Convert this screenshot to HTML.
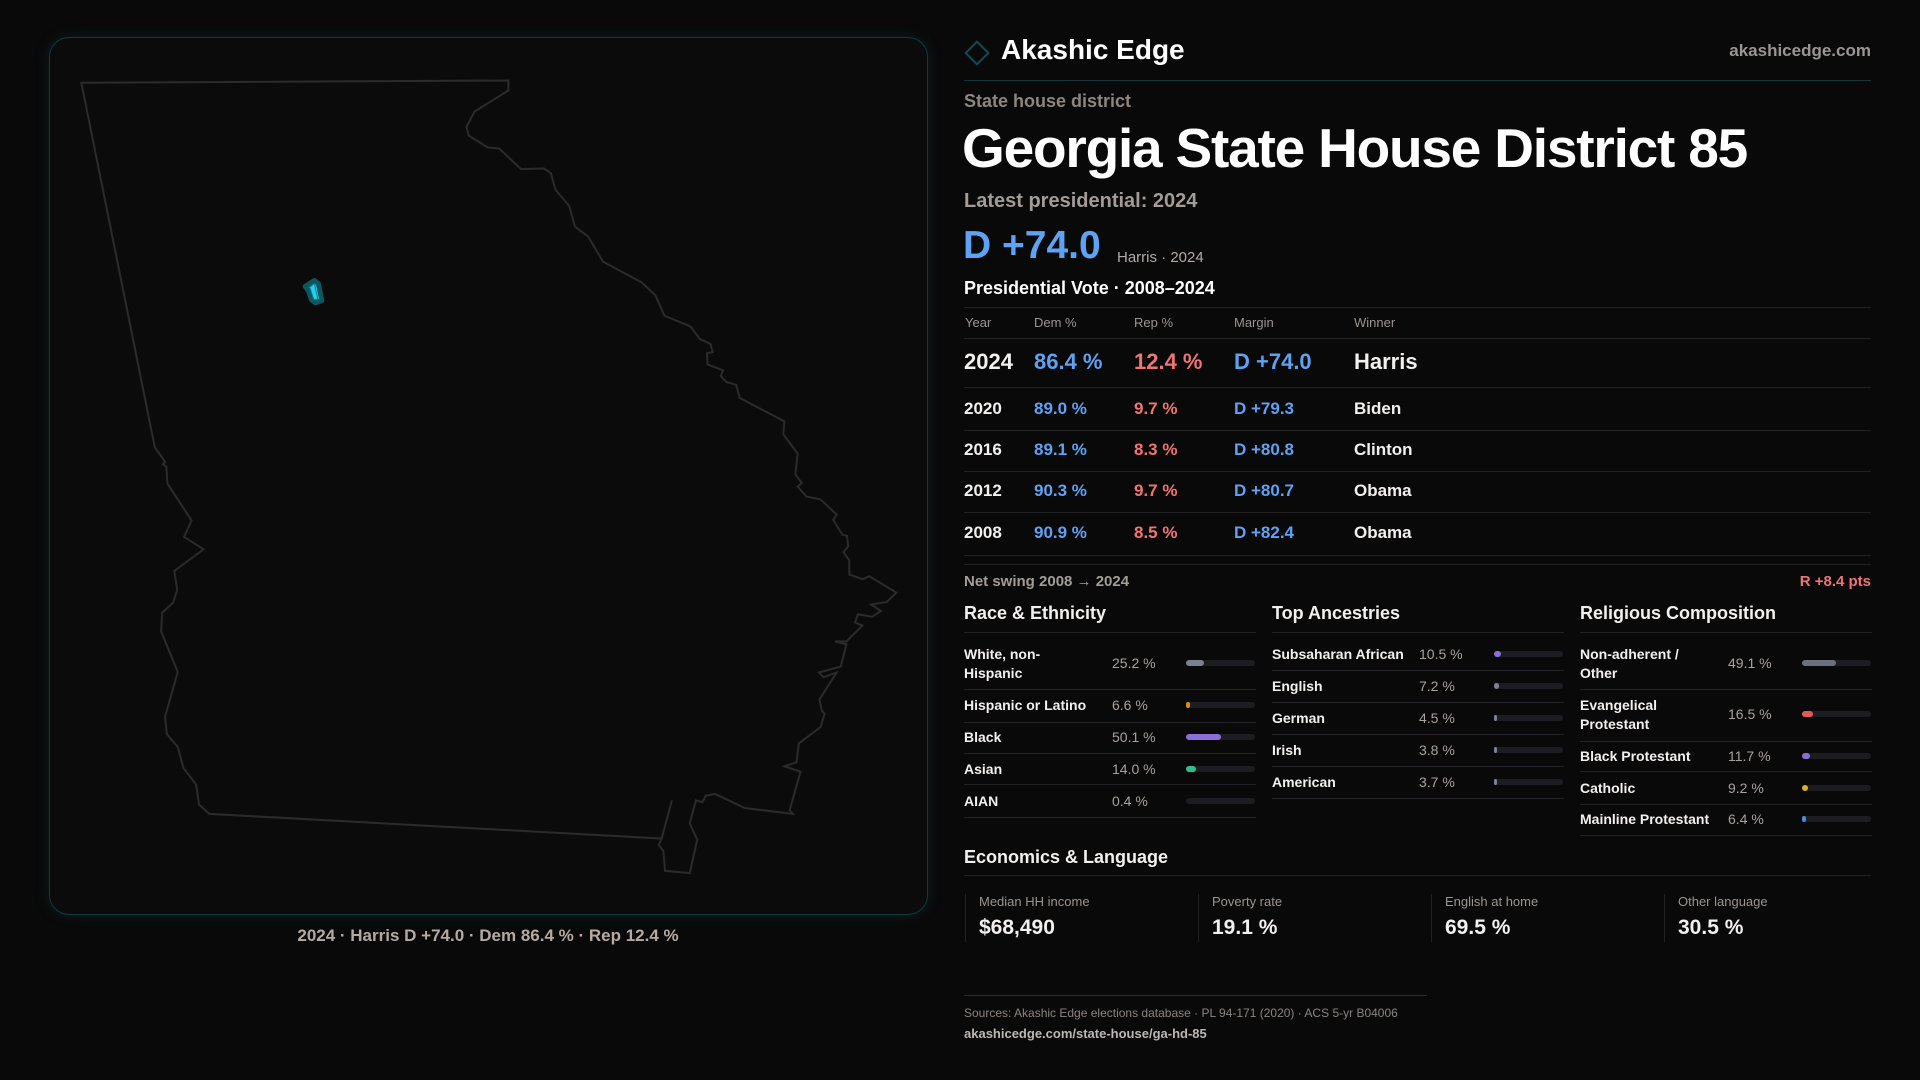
<!DOCTYPE html>
<html><head><meta charset="utf-8"><style>
*{margin:0;padding:0;box-sizing:border-box}
body{width:1920px;height:1080px;background:#0a0909;position:relative;overflow:hidden;font-family:"Liberation Sans",sans-serif;color:#f2f0ee}
.t{position:absolute;white-space:nowrap;line-height:1}
.b{font-weight:bold}
.ln{position:absolute;height:1px;background:#232124}
.tr{position:absolute;height:6px;border-radius:3px;background:#1d1c20;width:69px}
.tr i{position:absolute;left:0;top:0;height:6px;border-radius:3px}
.lab{font-size:14px;font-weight:bold;color:#f2f0ee}
.val{font-size:14px;color:#a8a29d}
.gr{color:#9a948f}
.bl{color:#5ea2f4}.rd{color:#f07474}
</style></head><body>
<div style="position:absolute;left:49px;top:37px;width:879px;height:878px;border:1px solid #123a40;border-radius:20px;background:#0c0b0c;box-shadow:0 0 14px rgba(20,90,100,.25)"></div>
<svg style="position:absolute;left:40px;top:30px" width="900" height="920" viewBox="0 0 1568 1568" preserveAspectRatio="none">
<path vector-effect="non-scaling-stroke" fill="none" stroke="#2c2a2b" stroke-width="2" d="M72,90 L816,86 816,103 757,139 743,165 747,180 780,200 800,202 838,237 878,236 890,244 898,272 922,300 932,335 955,352 981,395 1048,430 1072,452 1088,487 1133,505 1150,527 1168,535 1172,549 1162,551 1163,570 1190,580 1186,590 1196,600 1213,605 1219,627 1297,667 1295,689 1320,722 1316,757 1327,772 1320,778 1335,795 1360,800 1388,826 1382,835 1398,860 1406,862 1408,880 1400,890 1410,904 1410,928 1433,936 1445,931 1492,959 1475,975 1448,979 1465,990 1450,1000 1425,996 1420,1010 1433,1015 1405,1042 1385,1042 1405,1047 1395,1085 1357,1095 1365,1103 1388,1095 1358,1141 1362,1160 1367,1165 1360,1188 1322,1216 1318,1248 1297,1255 1325,1264 1306,1330 1312,1336 1228,1326 1176,1302 1160,1305 1154,1316 1143,1313 1132,1352 1145,1380 1132,1437 1089,1433 1086,1399 1078,1389 1083,1378 295,1336 277,1320 272,1286 250,1258 240,1222 221,1200 218,1170 240,1094 211,1025 213,993 232,976 239,954 234,922 285,885 251,864 264,836 222,773 220,744 214,740 218,736 200,711 Z M1101,1313 L1083,1378"/>
<path vector-effect="non-scaling-stroke" fill="#22d3ee" stroke="#0e5560" stroke-width="5" stroke-linejoin="round" d="M462,437 L478,427 485,432 491,461 480,465 473,460 468,445 Z"/>
<path vector-effect="non-scaling-stroke" fill="none" stroke="#0a7d8f" stroke-width="1" d="M470,438 L478,432 484,458 477,460 Z"/>
</svg>
<div class="t" style="left:488px;top:927px;transform:translateX(-50%);font-size:17px;font-weight:bold;color:#b5aaa3">2024 · Harris D +74.0 · Dem 86.4 % · Rep 12.4 %</div>

<div style="position:absolute;left:968px;top:44px;width:18px;height:18px;border:2px solid #0f4a55;transform:rotate(45deg)"></div>
<div class="t b" style="left:1001px;top:36px;font-size:28px;color:#fff">Akashic Edge</div>
<div class="t b" style="right:49px;top:42px;font-size:17px;color:#9a9693">akashicedge.com</div>
<div class="ln" style="left:964px;width:907px;top:80px;background:#17363b"></div>
<div class="t b" style="left:964px;top:92px;font-size:18px;color:#8c8580">State house district</div>
<div class="t b" style="left:962px;top:121px;font-size:55px;letter-spacing:-1.2px;color:#fff">Georgia State House District 85</div>
<div class="t b" style="left:964px;top:191px;font-size:20px;color:#a29b96">Latest presidential: 2024</div>
<div class="t b bl" style="left:963px;top:226px;font-size:39px">D +74.0</div>
<div class="t" style="left:1117px;top:250px;font-size:15px;color:#b0aaa6">Harris · 2024</div>
<div class="t b" style="left:964px;top:279px;font-size:18px;color:#fff">Presidential Vote · 2008–2024</div>
<div class="ln" style="left:964px;width:907px;top:307px"></div>
<div class="t gr" style="left:965px;top:316px;font-size:13px">Year</div>
<div class="t gr" style="left:1034px;top:316px;font-size:13px">Dem %</div>
<div class="t gr" style="left:1134px;top:316px;font-size:13px">Rep %</div>
<div class="t gr" style="left:1234px;top:316px;font-size:13px">Margin</div>
<div class="t gr" style="left:1354px;top:316px;font-size:13px">Winner</div>
<div class="ln" style="left:964px;width:907px;top:338px"></div>
<div class="t b" style="left:964px;top:351px;font-size:22px">2024</div>
<div class="t b bl" style="left:1034px;top:351px;font-size:22px">86.4 %</div>
<div class="t b rd" style="left:1134px;top:351px;font-size:22px">12.4 %</div>
<div class="t b bl" style="left:1234px;top:351px;font-size:22px">D +74.0</div>
<div class="t b" style="left:1354px;top:351px;font-size:22px">Harris</div>
<div class="ln" style="left:964px;width:907px;top:387px"></div>

<div class="t b" style="left:964px;top:400px;font-size:17px">2020</div><div class="t b bl" style="left:1034px;top:400px;font-size:17px">89.0 %</div><div class="t b rd" style="left:1134px;top:400px;font-size:17px">9.7 %</div><div class="t b bl" style="left:1234px;top:400px;font-size:17px">D +79.3</div><div class="t b" style="left:1354px;top:400px;font-size:17px">Biden</div>
<div class="ln" style="left:964px;width:907px;top:430px"></div>
<div class="t b" style="left:964px;top:441px;font-size:17px">2016</div><div class="t b bl" style="left:1034px;top:441px;font-size:17px">89.1 %</div><div class="t b rd" style="left:1134px;top:441px;font-size:17px">8.3 %</div><div class="t b bl" style="left:1234px;top:441px;font-size:17px">D +80.8</div><div class="t b" style="left:1354px;top:441px;font-size:17px">Clinton</div>
<div class="ln" style="left:964px;width:907px;top:471px"></div>
<div class="t b" style="left:964px;top:482px;font-size:17px">2012</div><div class="t b bl" style="left:1034px;top:482px;font-size:17px">90.3 %</div><div class="t b rd" style="left:1134px;top:482px;font-size:17px">9.7 %</div><div class="t b bl" style="left:1234px;top:482px;font-size:17px">D +80.7</div><div class="t b" style="left:1354px;top:482px;font-size:17px">Obama</div>
<div class="ln" style="left:964px;width:907px;top:512px"></div>
<div class="t b" style="left:964px;top:524px;font-size:17px">2008</div><div class="t b bl" style="left:1034px;top:524px;font-size:17px">90.9 %</div><div class="t b rd" style="left:1134px;top:524px;font-size:17px">8.5 %</div><div class="t b bl" style="left:1234px;top:524px;font-size:17px">D +82.4</div><div class="t b" style="left:1354px;top:524px;font-size:17px">Obama</div>
<div class="ln" style="left:964px;width:907px;top:555px"></div>
<div class="ln" style="left:964px;width:907px;top:564px"></div>
<div class="t b" style="left:964px;top:574px;font-size:15px;color:#a39d98">Net swing 2008 → 2024</div>
<div class="t b rd" style="right:49px;top:574px;font-size:15px">R +8.4 pts</div>

<div class="t b" style="left:964px;top:604px;font-size:18px">Race &amp; Ethnicity</div>
<div class="t b" style="left:1272px;top:604px;font-size:18px">Top Ancestries</div>
<div class="t b" style="left:1580px;top:604px;font-size:18px">Religious Composition</div>
<div class="ln" style="left:964px;width:292px;top:632px"></div>
<div class="ln" style="left:1272px;width:292px;top:632px"></div>
<div class="ln" style="left:1580px;width:292px;top:632px"></div>

<!-- race -->
<div class="t lab" style="left:964px;top:647px">White, non-</div><div class="t lab" style="left:964px;top:666px">Hispanic</div>
<div class="t val" style="left:1112px;top:656px">25.2 %</div><div class="tr" style="left:1186px;top:660px"><i style="width:18px;background:#7b8190"></i></div>
<div class="ln" style="left:964px;width:292px;top:689px"></div>
<div class="t lab" style="left:964px;top:698px">Hispanic or Latino</div><div class="t val" style="left:1112px;top:698px">6.6 %</div><div class="tr" style="left:1186px;top:702px"><i style="width:4px;background:#d4900a"></i></div>
<div class="ln" style="left:964px;width:292px;top:722px"></div>
<div class="t lab" style="left:964px;top:730px">Black</div><div class="t val" style="left:1112px;top:730px">50.1 %</div><div class="tr" style="left:1186px;top:734px"><i style="width:35px;background:#8b6fd8"></i></div>
<div class="ln" style="left:964px;width:292px;top:753px"></div>
<div class="t lab" style="left:964px;top:762px">Asian</div><div class="t val" style="left:1112px;top:762px">14.0 %</div><div class="tr" style="left:1186px;top:766px"><i style="width:10px;background:#2fbf8a"></i></div>
<div class="ln" style="left:964px;width:292px;top:784px"></div>
<div class="t lab" style="left:964px;top:794px">AIAN</div><div class="t val" style="left:1112px;top:794px">0.4 %</div><div class="tr" style="left:1186px;top:798px"></div>
<div class="ln" style="left:964px;width:292px;top:817px"></div>

<!-- ancestry -->
<div class="t lab" style="left:1272px;top:647px">Subsaharan African</div><div class="t val" style="left:1419px;top:647px">10.5 %</div><div class="tr" style="left:1494px;top:651px"><i style="width:7px;background:#8b6fd8"></i></div>
<div class="ln" style="left:1272px;width:292px;top:670px"></div>
<div class="t lab" style="left:1272px;top:679px">English</div><div class="t val" style="left:1419px;top:679px">7.2 %</div><div class="tr" style="left:1494px;top:683px"><i style="width:5px;background:#7b8190"></i></div>
<div class="ln" style="left:1272px;width:292px;top:702px"></div>
<div class="t lab" style="left:1272px;top:711px">German</div><div class="t val" style="left:1419px;top:711px">4.5 %</div><div class="tr" style="left:1494px;top:715px"><i style="width:3px;background:#7b8190"></i></div>
<div class="ln" style="left:1272px;width:292px;top:734px"></div>
<div class="t lab" style="left:1272px;top:743px">Irish</div><div class="t val" style="left:1419px;top:743px">3.8 %</div><div class="tr" style="left:1494px;top:747px"><i style="width:3px;background:#7b8190"></i></div>
<div class="ln" style="left:1272px;width:292px;top:766px"></div>
<div class="t lab" style="left:1272px;top:775px">American</div><div class="t val" style="left:1419px;top:775px">3.7 %</div><div class="tr" style="left:1494px;top:779px"><i style="width:3px;background:#7b8190"></i></div>
<div class="ln" style="left:1272px;width:292px;top:798px"></div>

<!-- religion -->
<div class="t lab" style="left:1580px;top:647px">Non-adherent /</div><div class="t lab" style="left:1580px;top:666px">Other</div>
<div class="t val" style="left:1728px;top:656px">49.1 %</div><div class="tr" style="left:1802px;top:660px"><i style="width:34px;background:#6b7080"></i></div>
<div class="ln" style="left:1580px;width:292px;top:689px"></div>
<div class="t lab" style="left:1580px;top:698px">Evangelical</div><div class="t lab" style="left:1580px;top:717px">Protestant</div>
<div class="t val" style="left:1728px;top:707px">16.5 %</div><div class="tr" style="left:1802px;top:711px"><i style="width:11px;background:#e05a5a"></i></div>
<div class="ln" style="left:1580px;width:292px;top:741px"></div>
<div class="t lab" style="left:1580px;top:749px">Black Protestant</div><div class="t val" style="left:1728px;top:749px">11.7 %</div><div class="tr" style="left:1802px;top:753px"><i style="width:8px;background:#8b6fd8"></i></div>
<div class="ln" style="left:1580px;width:292px;top:771px"></div>
<div class="t lab" style="left:1580px;top:781px">Catholic</div><div class="t val" style="left:1728px;top:781px">9.2 %</div><div class="tr" style="left:1802px;top:785px"><i style="width:6px;background:#e0b020"></i></div>
<div class="ln" style="left:1580px;width:292px;top:804px"></div>
<div class="t lab" style="left:1580px;top:812px">Mainline Protestant</div><div class="t val" style="left:1728px;top:812px">6.4 %</div><div class="tr" style="left:1802px;top:816px"><i style="width:4px;background:#4a8ae0"></i></div>
<div class="ln" style="left:1580px;width:292px;top:835px"></div>

<div class="t b" style="left:964px;top:848px;font-size:18px">Economics &amp; Language</div>
<div class="ln" style="left:964px;width:907px;top:875px"></div>
<div style="position:absolute;left:965px;top:894px;width:1px;height:48px;background:#232124"></div>
<div style="position:absolute;left:1198px;top:894px;width:1px;height:48px;background:#232124"></div>
<div style="position:absolute;left:1431px;top:894px;width:1px;height:48px;background:#232124"></div>
<div style="position:absolute;left:1664px;top:894px;width:1px;height:48px;background:#232124"></div>
<div class="t gr" style="left:979px;top:895px;font-size:13px">Median HH income</div>
<div class="t gr" style="left:1212px;top:895px;font-size:13px">Poverty rate</div>
<div class="t gr" style="left:1445px;top:895px;font-size:13px">English at home</div>
<div class="t gr" style="left:1678px;top:895px;font-size:13px">Other language</div>
<div class="t b" style="left:979px;top:917px;font-size:21px">$68,490</div>
<div class="t b" style="left:1212px;top:917px;font-size:21px">19.1 %</div>
<div class="t b" style="left:1445px;top:917px;font-size:21px">69.5 %</div>
<div class="t b" style="left:1678px;top:917px;font-size:21px">30.5 %</div>

<div class="ln" style="left:964px;width:463px;top:995px;background:#15363b"></div>
<div class="t" style="left:964px;top:1007px;font-size:12px;color:#8a847f">Sources: Akashic Edge elections database · PL 94-171 (2020) · ACS 5-yr B04006</div>
<div class="t b" style="left:964px;top:1027px;font-size:13px;color:#bdb7b2">akashicedge.com/state-house/ga-hd-85</div>
</body></html>
